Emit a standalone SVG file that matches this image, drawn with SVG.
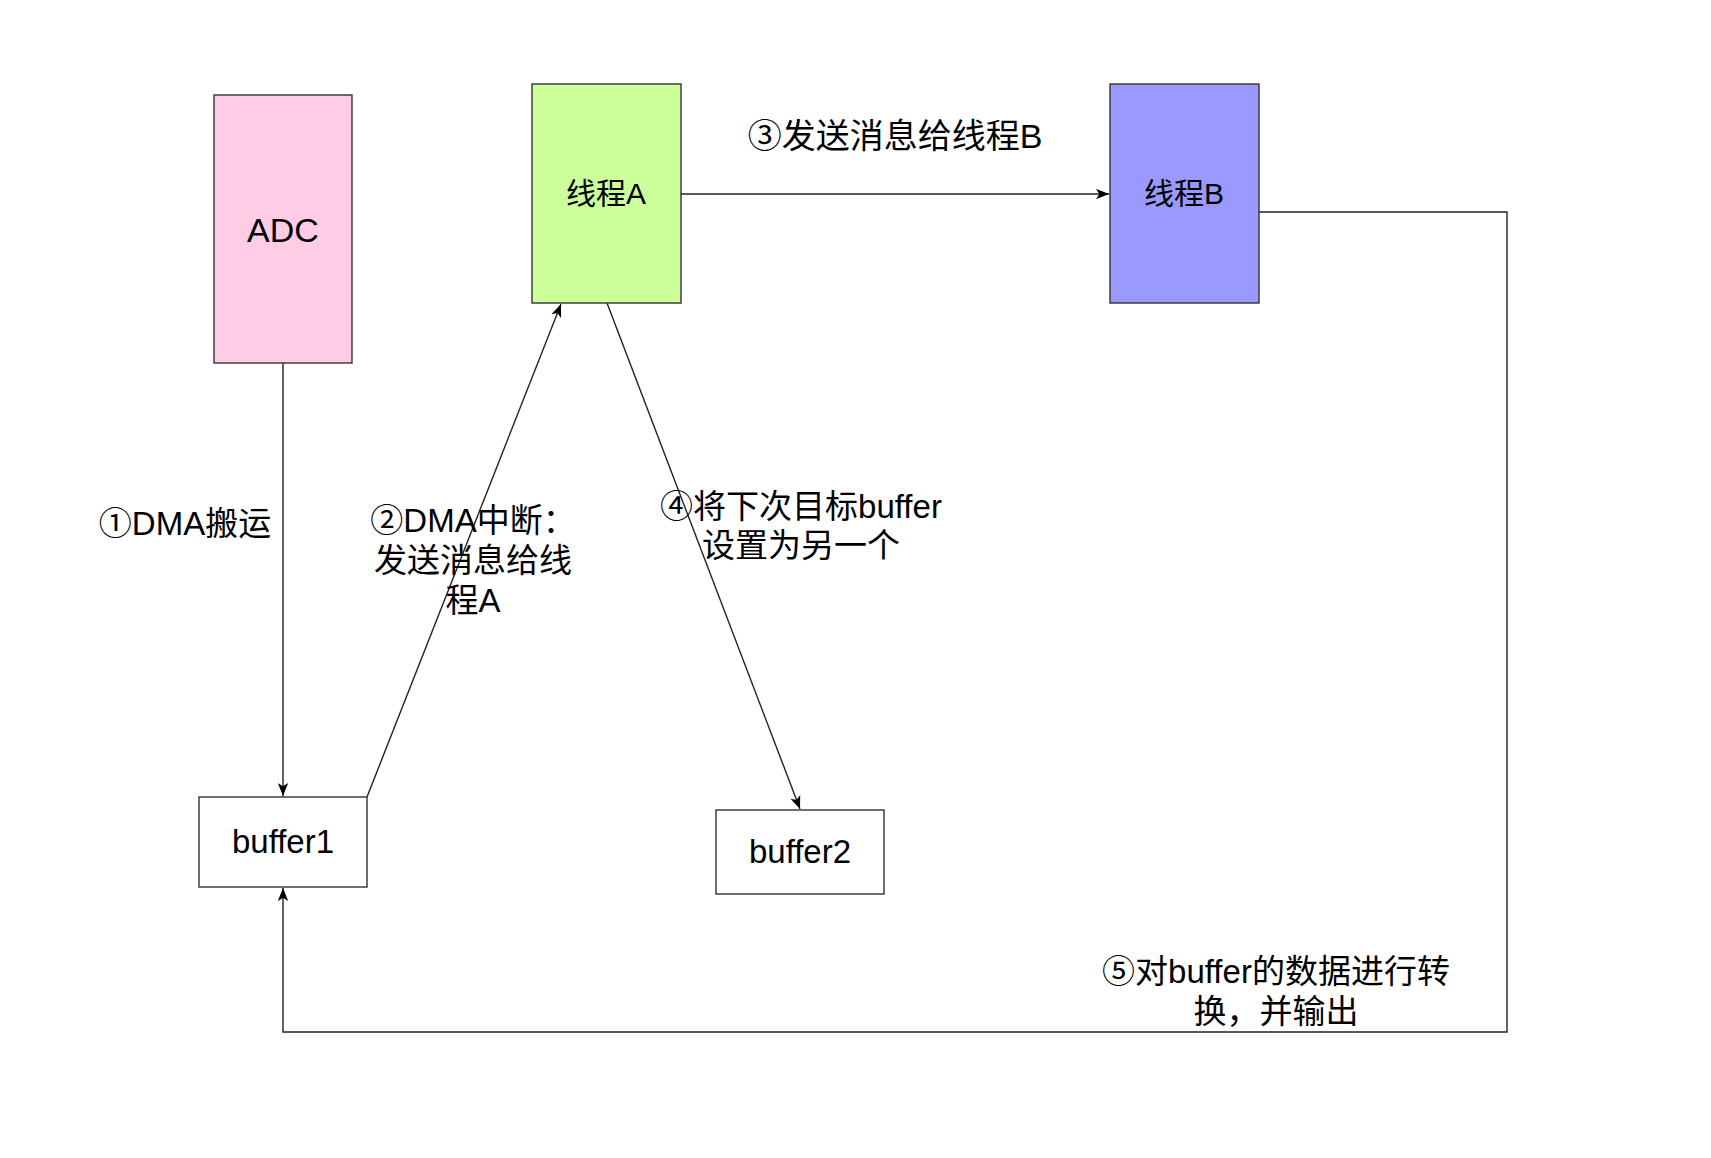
<svg xmlns="http://www.w3.org/2000/svg" width="1711" height="1158" viewBox="0 0 1711 1158">
<style>
.box{stroke:#333;stroke-width:1.4}
.t{font-family:"Liberation Sans","Noto Sans CJK SC",sans-serif;fill:#000;text-anchor:middle}
.lbl{font-family:"Liberation Sans","Noto Sans CJK SC",sans-serif;fill:#000;text-anchor:middle;font-size:33px}
.edge{fill:none;stroke:#222;stroke-width:1.4}
</style>
<defs>
<marker id="arr" viewBox="0 0 10 8" refX="10" refY="4" markerWidth="13" markerHeight="11" orient="auto" markerUnits="userSpaceOnUse">
<path d="M0,0 L10,4 L0,8 L2.5,4 Z" fill="#000"/>
</marker>
</defs>
<rect width="1711" height="1158" fill="#fff"/>
<g id="connectors">
<path class="edge" d="M283,363 L283,796" marker-end="url(#arr)"/>
<path class="edge" d="M367,797 L561,304" marker-end="url(#arr)"/>
<path class="edge" d="M607,303 L800,809" marker-end="url(#arr)"/>
<path class="edge" d="M681,194 L1109,194" marker-end="url(#arr)"/>
<path class="edge" d="M1259,212 L1507,212 L1507,1032 L283,1032 L283,888" marker-end="url(#arr)"/>
</g>
<g id="adc"><rect class="box" x="214" y="95" width="138" height="268" fill="#FFCCE6"/><text class="t" x="283" y="242" font-size="34">ADC</text></g>
<g id="threadA"><rect class="box" x="532" y="84" width="149" height="219" fill="#CCFF99"/><text class="t" x="606" y="204" font-size="30">线程A</text></g>
<g id="threadB"><rect class="box" x="1110" y="84" width="149" height="219" fill="#9999FF"/><text class="t" x="1184" y="204" font-size="30">线程B</text></g>
<g id="buffer1"><rect class="box" x="199" y="797" width="168" height="90" fill="#fff"/><text class="t" x="283" y="853" font-size="33">buffer1</text></g>
<g id="buffer2"><rect class="box" x="716" y="810" width="168" height="84" fill="#fff"/><text class="t" x="800" y="863" font-size="33">buffer2</text></g>
<g id="labels">
<text class="lbl" x="185" y="535">①DMA搬运</text>
<text class="lbl" x="473" y="532">②DMA中断：</text>
<text class="lbl" x="473" y="572">发送消息给线</text>
<text class="lbl" x="473" y="612">程A</text>
<text class="lbl" x="895" y="148" style="font-size:34px">③发送消息给线程B</text>
<text class="lbl" x="801" y="518">④将下次目标buffer</text>
<text class="lbl" x="801" y="557">设置为另一个</text>
<text class="lbl" x="1276" y="983">⑤对buffer的数据进行转</text>
<text class="lbl" x="1276" y="1023">换，并输出</text>
</g>
</svg>
